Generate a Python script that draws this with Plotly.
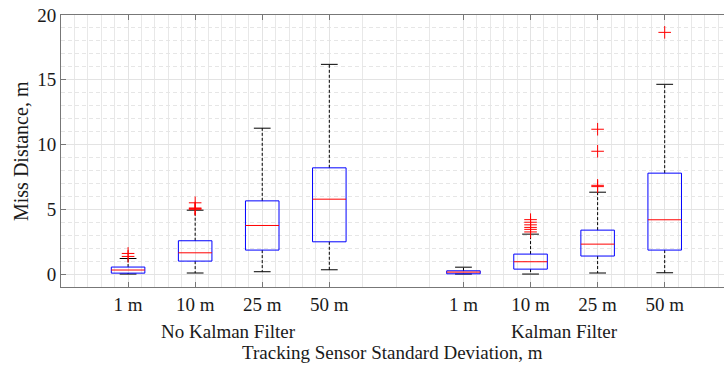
import plotly.graph_objects as go

# Box-plot summary statistics for miss distance (m), per filter setting and sensor sigma
groups = ["No Kalman Filter", "Kalman Filter"]
sigmas = ["1 m", "10 m", "25 m", "50 m"]

lower_whisker = [0.00, 0.08, 0.18, 0.33, 0.00, 0.00, 0.08, 0.10]
q1 = [0.07, 1.00, 1.85, 2.49, 0.02, 0.38, 1.39, 1.85]
median = [0.31, 1.64, 3.75, 5.78, 0.15, 0.95, 2.31, 4.19]
q3 = [0.54, 2.57, 5.65, 8.20, 0.25, 1.54, 3.39, 7.79]
upper_whisker = [1.20, 4.93, 11.26, 16.19, 0.53, 3.08, 6.32, 14.65]
outliers = [
    [1.36, 1.59],
    [5.00, 5.05, 5.10, 5.50],
    [],
    [],
    [],
    [3.25, 3.45, 3.60, 3.80, 4.00, 4.20],
    [6.75, 6.85, 9.48, 11.18],
    [18.66],
]

# x positions: one slot per sigma, an empty slot between the two groups
positions = []
tick_text = []
for gi, _g in enumerate(groups):
    for si, s in enumerate(sigmas):
        positions.append(gi * (len(sigmas) + 1) + si + 1)
        tick_text.append(s)

BOX_HALF = 0.25
CAP_HALF = 0.125

box_x, box_y = [], []
med_x, med_y = [], []
wh_x, wh_y = [], []
cap_x, cap_y = [], []
out_x, out_y = [], []
for i, p in enumerate(positions):
    l, r = p - BOX_HALF, p + BOX_HALF
    box_x += [l, r, r, l, l, None]
    box_y += [q1[i], q1[i], q3[i], q3[i], q1[i], None]
    med_x += [l, r, None]
    med_y += [median[i], median[i], None]
    wh_x += [p, p, None, p, p, None]
    wh_y += [q3[i], upper_whisker[i], None, q1[i], lower_whisker[i], None]
    cap_x += [p - CAP_HALF, p + CAP_HALF, None, p - CAP_HALF, p + CAP_HALF, None]
    cap_y += [upper_whisker[i], upper_whisker[i], None,
              lower_whisker[i], lower_whisker[i], None]
    for v in outliers[i]:
        out_x.append(p)
        out_y.append(v)

fig = go.Figure()
fig.add_trace(go.Scatter(x=wh_x, y=wh_y, mode="lines",
                         line=dict(color="black", width=1, dash="3px,2px"),
                         hoverinfo="skip"))
fig.add_trace(go.Scatter(x=cap_x, y=cap_y, mode="lines",
                         line=dict(color="black", width=1), hoverinfo="skip"))
fig.add_trace(go.Scatter(x=box_x, y=box_y, mode="lines",
                         line=dict(color="#0000ff", width=1), hoverinfo="skip"))
fig.add_trace(go.Scatter(x=med_x, y=med_y, mode="lines",
                         line=dict(color="#ff0000", width=1), hoverinfo="skip"))
fig.add_trace(go.Scatter(x=out_x, y=out_y, mode="markers",
                         marker=dict(symbol="cross-thin", size=9,
                                     line=dict(color="#ff0000", width=1)),
                         hoverinfo="skip"))

# grid: fine spacing inside the groups, coarser in the gap between them
x_minor = []
for k in range(0, 51):
    v = round(k * 0.2, 1)
    if v <= 4 or v >= 6:
        x_minor.append(v)
x_minor += [4.5, 5.0, 5.5]
y_minor = [v for v in range(-1, 21) if v % 5 != 0]

FONT = "Liberation Serif, Times New Roman, serif"
TXT = "#1a1a1a"
FS = 19

fig.update_layout(
    width=724, height=367,
    margin=dict(l=61, r=0, t=15, b=80),
    paper_bgcolor="white", plot_bgcolor="white",
    showlegend=False,
    font=dict(family=FONT, size=FS, color=TXT),
    xaxis=dict(
        range=[0, 9.884],
        tickmode="array", tickvals=positions, ticktext=tick_text,
        ticks="inside", ticklen=5, tickcolor="#777", tickwidth=1,
        showline=True, linecolor="#777", linewidth=1, mirror="ticks",
        showgrid=True, gridcolor="#e3e3e3", gridwidth=1,
        zeroline=False,
        tickfont=dict(family=FONT, size=FS, color=TXT),
        minor=dict(tickmode="array", tickvals=x_minor, showgrid=True,
                   gridcolor="#e8e8e8", gridwidth=1, ticks=""),
    ),
    yaxis=dict(
        range=[-1, 20],
        tickmode="array", tickvals=[0, 5, 10, 15, 20],
        ticks="inside", ticklen=5, tickcolor="#777", tickwidth=1,
        showline=True, linecolor="#777", linewidth=1, mirror=False,
        showgrid=True, gridcolor="#e3e3e3", gridwidth=1,
        zeroline=False,
        tickfont=dict(family=FONT, size=FS, color=TXT),
        minor=dict(tickmode="array", tickvals=y_minor, showgrid=True,
                   gridcolor="#e6e6e6", gridwidth=1, griddash="4px,3px", ticks=""),
    ),
)

# group captions under the sigma labels
for gi, g in enumerate(groups):
    centre = (positions[gi * len(sigmas)] + positions[gi * len(sigmas) + len(sigmas) - 1]) / 2
    fig.add_annotation(x=centre, xref="x", y=0, yref="paper", yanchor="middle",
                       yshift=-44, text=g, showarrow=False,
                       font=dict(family=FONT, size=FS, color=TXT))

fig.add_annotation(x=0.5, xref="paper", y=0, yref="paper", yanchor="middle",
                   yshift=-65, text="Tracking Sensor Standard Deviation, m",
                   showarrow=False, font=dict(family=FONT, size=FS, color=TXT))
fig.add_annotation(x=0, xref="paper", xanchor="center", xshift=-40,
                   y=0.5, yref="paper", yanchor="middle", textangle=-90,
                   text="Miss Distance, m", showarrow=False,
                   font=dict(family=FONT, size=20, color=TXT))

fig.write_html("out.html")
